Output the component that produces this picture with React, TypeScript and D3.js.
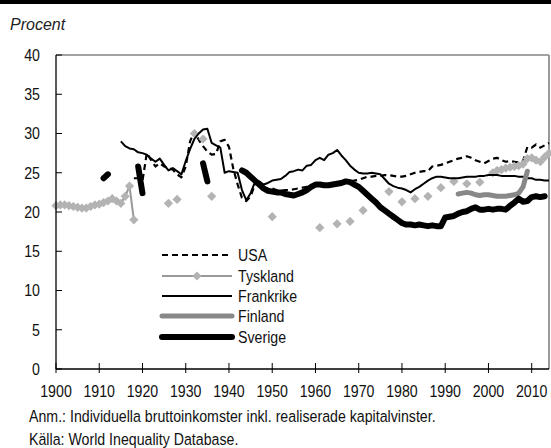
import React from 'react';
import * as d3 from 'd3';

// Andel (procent) per år
const usaYears = d3.range(1918, 2015);
const usaValues = [
  24.3, 24.3, 24.0, 27.5, 26.6, 25.8, 26.2, 25.8, 25.6, 25.4, 24.8, 24.4,
  25.8, 29.0, 30.3, 29.2, 28.4, 27.7, 27.3, 27.4, 29.0, 29.2, 28.3, 25.5,
  23.5, 21.8, 21.4, 22.0, 23.5, 23.7, 23.1, 23.0, 23.0, 22.8, 22.7, 22.8,
  22.8, 22.9, 23.0, 23.1, 23.2, 23.3, 23.4, 23.4, 23.5, 23.5, 23.6, 23.7,
  23.7, 23.8, 23.9, 24.0, 24.1, 24.3, 24.5, 24.5, 24.6, 24.6, 24.7, 24.7,
  24.6, 24.5, 24.5, 24.6, 24.8, 25.0, 25.1, 25.2, 25.2, 25.8, 25.9, 26.0,
  26.2, 26.4, 26.6, 26.8, 26.9, 27.1, 26.9, 26.6, 26.4, 26.2, 26.5, 26.8,
  26.9, 26.6, 26.4, 26.5, 26.4, 26.3, 26.5, 28.3, 28.2, 28.6, 28.2, 28.5,
  28.8,
];

const tysklandYears = [
  ...d3.range(1900, 1919),
  1926, 1928, 1932, 1934, 1936, 1950, 1961, 1965, 1968, 1971,
  1977, 1980, 1983, 1986, 1989, 1992, 1995, 1998,
  ...d3.range(2001, 2015),
];
const tysklandValues = [
  20.8, 20.9, 20.9, 20.8, 20.7, 20.6, 20.5, 20.5, 20.7, 20.9, 21.0, 21.2,
  21.4, 21.7, 21.4, 21.1, 22.0, 23.3, 19.0,
  21.1, 21.6, 30.0, 29.3, 22.0, 19.4, 18.0, 18.5, 18.8, 20.2,
  22.6, 21.3, 21.7, 22.0, 23.1, 23.9, 23.6, 23.8,
  25.0, 25.3, 25.4, 25.6, 25.7, 25.8, 25.9, 26.1, 26.8, 26.9, 26.6, 26.4,
  27.0, 27.5,
];

const frankrikeYears = d3.range(1915, 2015);
const frankrikeValues = [
  29.0, 28.4, 28.1, 28.0, 27.6, 27.5, 27.3, 26.8, 26.4, 26.8, 26.0, 25.3,
  25.6, 25.2, 24.8, 26.5, 28.0, 29.3, 30.0, 30.5, 30.6, 28.8, 28.5, 28.2,
  25.0, 25.2, 25.1, 25.0, 22.8, 21.5, 22.4, 23.8, 23.9, 23.5, 23.7, 24.0,
  24.1, 24.2, 24.6, 25.1, 25.2, 25.4, 25.3, 25.9, 26.0, 26.6, 26.9, 26.6,
  27.3, 27.5, 27.9, 27.2, 26.6, 25.9, 25.4, 25.0, 24.9, 24.9, 25.0, 24.9,
  24.8, 24.2, 23.6, 23.3, 23.1, 23.0, 22.8, 22.5, 22.9, 23.2, 23.6, 24.0,
  24.3, 24.5, 24.5, 24.4, 24.3, 24.3, 24.3, 24.4, 24.5, 24.5, 24.5, 24.6,
  24.6, 24.7, 24.7, 24.7, 24.6, 24.6, 24.6, 24.6, 24.5, 24.5, 24.3, 24.3,
  24.1, 24.1, 24.0, 24.0,
];

const finlandYears = d3.range(1993, 2010);
const finlandValues = [
  22.3, 22.4, 22.5, 22.4, 22.2, 22.1, 22.2, 22.2, 22.1, 22.0, 22.0, 22.0,
  22.1, 22.2, 22.4, 23.2, 25.2,
];

const sverigeYears = [1911, 1912, 1919, 1920, 1934, 1935, ...d3.range(1943, 2014)];
const sverigeValues = [
  24.3, 24.8, 25.8, 22.4, 26.2, 23.9,
  25.3, 25.0, 24.5, 24.0, 23.5, 23.0, 22.7, 22.6, 22.5, 22.5, 22.3, 22.2,
  22.1, 22.3, 22.5, 22.8, 23.2, 23.5, 23.5, 23.4, 23.4, 23.5, 23.6, 23.7,
  23.9, 23.8, 23.5, 23.2, 22.7, 22.2, 21.7, 21.2, 20.6, 20.2, 19.8, 19.4,
  19.0, 18.6, 18.4, 18.4, 18.3, 18.4, 18.3, 18.2, 18.3, 18.2, 18.2, 19.3,
  19.4, 19.5, 19.8, 20.0, 20.1, 20.4, 20.6, 20.3, 20.3, 20.4, 20.3, 20.4,
  20.4, 20.3, 20.8, 21.2, 21.7, 21.3, 21.4, 21.9, 22.0, 21.9, 22.0,
];

const xTicks = d3.range(1900, 2011, 10);
const yTicks = d3.range(0, 41, 5);
const legendNames = ['USA', 'Tyskland', 'Frankrike', 'Finland', 'Sverige'];

type Pt = { year: number; value: number };

// delar upp serien där år saknas
function segments(years: number[], values: number[]): Pt[][] {
  const out: Pt[][] = [];
  let cur: Pt[] = [];
  years.forEach((yr, i) => {
    if (i > 0 && yr - years[i - 1] > 1) {
      out.push(cur);
      cur = [];
    }
    cur.push({ year: yr, value: values[i] });
  });
  out.push(cur);
  return out;
}

const diamond = 'M0,-4.6L4.6,0L0,4.6L-4.6,0Z';

// smal text: ingen smal font finns, så Liberation Sans trycks ihop i x-led
function NText(props: { x: number; y: number; anchor?: string; dy?: string; children: React.ReactNode }) {
  const { x, y, anchor = 'start', dy, children } = props;
  return (
    <text
      transform={`translate(${x},${y}) scale(0.86,1)`}
      dy={dy}
      textAnchor={anchor}
      fontFamily="'Liberation Sans', Arial, sans-serif"
      fontSize={16.5}
      fill="#111"
    >
      {children}
    </text>
  );
}

export default function App() {
  const width = 551;
  const height = 448;
  const left = 56;
  const right = 549;
  const top = 55;
  const bottom = 369;

  const x = d3.scaleLinear().domain([1900, 2014]).range([left, right]);
  const y = d3.scaleLinear().domain([0, 40]).range([bottom, top]);

  const line = d3.line<Pt>().x(d => x(d.year)).y(d => y(d.value));

  const paths = (years: number[], values: number[]) =>
    segments(years, values).filter(s => s.length > 1).map(s => line(s) as string);

  const series = [
    { name: 'USA', d: paths(usaYears, usaValues), stroke: '#000', w: 2.2, dash: '6,4' },
    { name: 'Tyskland', d: paths(tysklandYears, tysklandValues), stroke: '#999', w: 2, dash: null },
    { name: 'Frankrike', d: paths(frankrikeYears, frankrikeValues), stroke: '#000', w: 2, dash: null },
    { name: 'Finland', d: paths(finlandYears, finlandValues), stroke: '#888', w: 5, dash: null },
    { name: 'Sverige', d: paths(sverigeYears, sverigeValues), stroke: '#000', w: 6, dash: null },
  ];

  const legendX0 = 162;
  const legendX1 = 232;
  const legendY = [255, 276, 296, 316, 337];

  return (
    <svg width={width} height={height} style={{ position: 'absolute', left: 0, top: 0, background: '#fff' }}>
      <rect x={0} y={0} width={width} height={4} fill="#000" />
      <text x={10} y={30} fontFamily="'Liberation Sans', Arial, sans-serif" fontStyle="italic" fontSize={16} fill="#222">
        Procent
      </text>

      {/* ram */}
      <line x1={left} x2={right} y1={top} y2={top} stroke="#444" strokeWidth={1} />
      <line x1={right} x2={right} y1={top} y2={bottom} stroke="#999" strokeWidth={2} />

      {/* linjer */}
      {series.map(s => (
        <g key={s.name}>
          {s.d.map((p, i) => (
            <path
              key={i}
              d={p}
              fill="none"
              stroke={s.stroke}
              strokeWidth={s.w}
              strokeDasharray={s.dash ?? undefined}
              strokeLinecap={s.w > 4 ? 'round' : 'butt'}
              strokeLinejoin="round"
            />
          ))}
          {s.name === 'Tyskland' &&
            tysklandYears.map((yr, i) => (
              <path key={yr} d={diamond} transform={`translate(${x(yr)},${y(tysklandValues[i])})`} fill="#b3b3b3" />
            ))}
        </g>
      ))}

      {/* axlar */}
      <line x1={left} x2={left} y1={top} y2={bottom} stroke="#000" strokeWidth={1.3} />
      <line x1={left} x2={right} y1={bottom} y2={bottom} stroke="#000" strokeWidth={1.3} />
      {yTicks.map(t => (
        <g key={t}>
          <line x1={left} x2={left + 6} y1={y(t)} y2={y(t)} stroke="#000" strokeWidth={1} />
          <NText x={40} y={y(t)} dy="0.36em" anchor="end">
            {t}
          </NText>
        </g>
      ))}
      {xTicks.map(t => (
        <g key={t}>
          <line x1={x(t)} x2={x(t)} y1={bottom - 6} y2={bottom + 4} stroke="#000" strokeWidth={1} />
          <NText x={x(t)} y={397} anchor="middle">
            {t}
          </NText>
        </g>
      ))}

      {/* förklaring */}
      {series.map((s, i) => (
        <g key={s.name}>
          <line
            x1={legendX0}
            x2={legendX1}
            y1={legendY[i]}
            y2={legendY[i]}
            stroke={s.stroke}
            strokeWidth={s.w}
            strokeDasharray={s.dash ?? undefined}
            strokeLinecap={s.w > 4 ? 'round' : 'butt'}
          />
          {s.name === 'Tyskland' && (
            <path d={diamond} transform={`translate(${(legendX0 + legendX1) / 2},${legendY[i]})`} fill="#b3b3b3" />
          )}
          <NText x={238} y={legendY[i]} dy="0.36em">
            {legendNames[i]}
          </NText>
        </g>
      ))}

      <NText x={29} y={422}>Anm.: Individuella bruttoinkomster inkl. realiserade kapitalvinster.</NText>
      <NText x={29} y={445}>Källa: World Inequality Database.</NText>
    </svg>
  );
}
